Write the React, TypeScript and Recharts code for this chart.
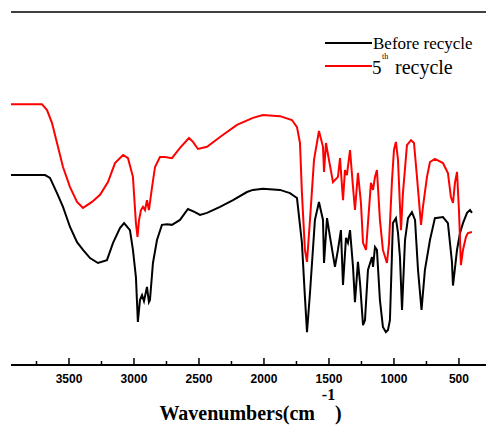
import { LineChart, Line, XAxis, YAxis, Legend, ReferenceLine } from 'recharts'

// x ticks every 250 cm-1, labels on the 500s
const wnTicks = [3750, 3500, 3250, 3000, 2750, 2500, 2250, 2000, 1750, 1500, 1250, 1000, 750, 500]

// Before recycle (black) - wavenumber / transmittance (a.u.)
const beforeWn = [
  3946, 3684, 3646, 3592, 3546, 3492, 3438, 3392, 3338, 3277, 3208, 3161, 3108, 3076, 3031, 3008,
  2985, 2970, 2954, 2938, 2923, 2900, 2885, 2877, 2854, 2823, 2785, 2746, 2708, 2646, 2585, 2531,
  2492, 2438, 2338, 2238, 2131, 2085, 2008, 1877, 1800, 1746, 1708, 1685, 1669, 1646, 1608, 1577,
  1546, 1538, 1515, 1492, 1454, 1431, 1408, 1392, 1369, 1354, 1338, 1315, 1300, 1277, 1261, 1238,
  1223, 1200, 1169, 1161, 1146, 1131, 1108, 1085, 1062, 1046, 1031, 1008, 985, 969, 954, 938,
  915, 892, 862, 838, 815, 788, 762, 723, 685, 623, 585, 554, 546, 515, 492, 469, 438, 415, 400,
]
const beforeT = [
  53.8, 53.8, 53.0, 48.7, 44.8, 39.1, 34.8, 32.6, 30.3, 28.9, 29.7, 34.6, 38.8, 40.2, 38.2, 32.6,
  24.9, 12.2, 18.4, 19.8, 18.1, 22.1, 17.8, 18.4, 28.9, 35.4, 39.7, 39.9, 39.7, 41.1, 44.2, 43.3,
  42.5, 43.1, 44.8, 46.7, 49.0, 49.6, 49.9, 49.6, 48.7, 47.3, 34.6, 19.3, 9.3, 20.4, 41.1, 46.2,
  41.1, 28.9, 41.6, 36.3, 27.8, 32.6, 38.2, 22.7, 36.0, 34.6, 38.2, 27.8, 17.8, 29.2, 23.2, 11.3,
  12.7, 26.9, 30.6, 27.8, 33.4, 32.6, 18.4, 10.8, 9.3, 9.9, 12.7, 40.2, 41.6, 37.4, 30.6, 15.6,
  35.4, 41.6, 43.3, 41.1, 26.9, 15.6, 26.9, 35.4, 41.6, 41.9, 40.2, 29.2, 22.5, 32.6, 37.4, 40.2, 43.1, 43.9, 43.1,
]

// 5th recycle (red)
const fifthWn = [
  3946, 3708, 3669, 3631, 3592, 3546, 3492, 3438, 3392, 3323, 3261, 3200, 3146, 3084, 3046, 3008,
  2985, 2973, 2961, 2946, 2931, 2915, 2900, 2885, 2861, 2838, 2800, 2761, 2708, 2646, 2577, 2546,
  2508, 2438, 2338, 2208, 2085, 2008, 1877, 1785, 1746, 1723, 1708, 1685, 1669, 1646, 1615, 1577,
  1546, 1538, 1523, 1500, 1469, 1431, 1415, 1392, 1377, 1362, 1338, 1315, 1300, 1277, 1254, 1238,
  1215, 1200, 1177, 1161, 1146, 1131, 1108, 1085, 1054, 1038, 1015, 1000, 985, 969, 946, 931,
  900, 869, 846, 823, 792, 777, 746, 723, 685, 623, 585, 562, 546, 531, 515, 500, 485, 469, 446, 431, 400,
]
const fifthT = [
  73.9, 73.9, 72.2, 68.6, 62.9, 56.1, 50.4, 46.2, 44.5, 46.2, 48.2, 51.8, 57.2, 59.5, 58.6, 53.3,
  40.2, 36.3, 41.1, 43.9, 44.8, 43.9, 46.7, 43.9, 50.4, 56.1, 58.9, 58.9, 58.6, 61.5, 64.3, 63.2,
  61.2, 61.8, 64.6, 68.0, 70.0, 70.8, 70.5, 69.4, 67.4, 62.9, 48.7, 32.6, 29.2, 41.1, 58.1, 66.3,
  61.8, 54.7, 62.9, 58.1, 51.8, 53.3, 58.6, 46.7, 55.2, 53.8, 60.9, 50.4, 43.9, 54.4, 45.9, 34.6,
  32.6, 40.2, 51.6, 49.6, 53.3, 55.2, 41.1, 32.6, 28.9, 34.6, 52.4, 60.9, 63.2, 58.1, 38.2, 48.7,
  62.3, 63.7, 62.9, 53.3, 39.7, 44.8, 53.3, 57.5, 58.4, 57.2, 54.4, 47.6, 45.9, 51.6, 54.7, 43.9, 28.3, 32.6, 36.3, 37.4, 37.7,
]

const before = beforeWn.map((wn, i) => ({ wn, t: beforeT[i] }))
const fifth = fifthWn.map((wn, i) => ({ wn, t: fifthT[i] }))

const SERIF = "'Liberation Serif', 'Times New Roman', serif"
const SANS = "'Liberation Sans', Arial, sans-serif"

function WnTick({ x, y, payload }: any) {
  const major = payload.value % 500 === 0
  return (
    <g>
      <line x1={x} x2={x} y1={y} y2={y - (major ? 7 : 4)} stroke="#000" strokeWidth={1.5} />
      {major && (
        <text x={x} y={y + 18} textAnchor="middle" fontSize={12} fontWeight="bold" fontFamily={SANS} fill="#000">
          {payload.value}
        </text>
      )}
    </g>
  )
}

function AxisTitle({ viewBox }: any) {
  const cx = viewBox.x + viewBox.width / 2
  const y = viewBox.y
  return (
    <g fontFamily={SERIF} fontWeight="bold" fill="#000">
      <text x={cx + 80} y={y + 35} fontSize={16} textAnchor="middle">-1</text>
      <text x={cx + 2} y={y + 55} fontSize={20} textAnchor="middle" style={{ whiteSpace: 'pre' }}>
        {'Wavenumbers(cm    )'}
      </text>
    </g>
  )
}

function FtirLegend() {
  return (
    <svg width={165} height={50} style={{ display: 'block' }}>
      <line x1={5} x2={52} y1={13} y2={13} stroke="#000" strokeWidth={2} />
      <text x={53} y={19} fontSize={17} fontFamily={SERIF} fill="#000">Before recycle</text>
      <line x1={5} x2={52} y1={36} y2={36} stroke="#ff0000" strokeWidth={2} />
      <text x={52} y={44} fontSize={19} fontFamily={SERIF} fill="#000">5</text>
      <text x={62} y={29} fontSize={8} fontFamily={SERIF} fill="#000">th</text>
      <text x={75} y={44} fontSize={20} fontFamily={SERIF} fill="#000">recycle</text>
    </svg>
  )
}

export default function App() {
  return (
    <div style={{ position: 'absolute', left: 0, top: 0, background: '#fff' }}>
      <LineChart width={486} height={425} margin={{ top: 12, right: 0, left: 11, bottom: 0 }}>
        <XAxis
          dataKey="wn"
          type="number"
          domain={[292, 3946]}
          reversed
          allowDataOverflow
          ticks={wnTicks}
          interval={0}
          height={60}
          tickSize={0}
          tickMargin={0}
          tickLine={false}
          tick={<WnTick />}
          axisLine={{ stroke: '#000', strokeWidth: 2 }}
          label={{ content: <AxisTitle /> } as any}
        />
        <YAxis
          type="number"
          domain={[0, 100]}
          width={0}
          tick={false}
          tickLine={false}
          axisLine={{ stroke: '#000', strokeWidth: 2.5 }}
        />
        {/* top frame */}
        <ReferenceLine y={100} stroke="#000" strokeWidth={1.5} ifOverflow="visible" />
        <Legend
          layout="vertical"
          align="center"
          verticalAlign="middle"
          content={<FtirLegend />}
          wrapperStyle={{ position: 'absolute', left: 320, top: 30, width: 165 }}
        />
        <Line
          data={before}
          dataKey="t"
          name="Before recycle"
          type="linear"
          stroke="#000"
          strokeWidth={2}
          dot={false}
          isAnimationActive={false}
        />
        <Line
          data={fifth}
          dataKey="t"
          name="5th recycle"
          type="linear"
          stroke="#ff0000"
          strokeWidth={2}
          dot={false}
          isAnimationActive={false}
        />
      </LineChart>
    </div>
  )
}
